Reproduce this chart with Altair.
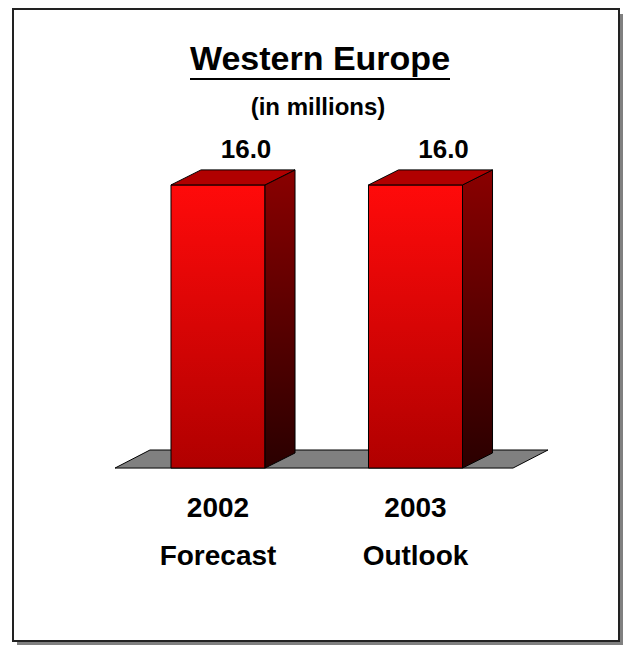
import altair as alt
import pandas as pd

# ---- data ----
years = ["2002", "2003"]
notes = ["Forecast", "Outlook"]
values = [16.0, 16.0]
value_labels = ["16.0", "16.0"]
title_text = "Western Europe"
subtitle_text = "(in millions)"

# ---- geometry / style constants (not data) ----
W, H = 615, 637
HALF = 0.238      # half bar width (x units)
DX, DY = 0.152, 0.85   # 3D depth of the bars
FL, FR = -0.5215, 1.4937  # floor front edge extent
FDX, FDY = 0.177, 1.02   # floor depth
FONT = "Liberation Sans"

xs = alt.Scale(domain=[-1.0633, 2.0506], nice=False, zero=False)
ys = alt.Scale(domain=[-10, 26], nice=False, zero=False)

bars = pd.DataFrame({"idx": list(range(len(years))), "year": years,
                     "note": notes, "value": values, "label": value_labels})

# side faces (vertical areas) and top faces (horizontal areas): two rows per bar
side_rows, top_rows = [], []
for i, v in enumerate(values):
    side_rows.append({"bar": i, "x": i + HALF, "y": v, "y2": 0.0})
    side_rows.append({"bar": i, "x": i + HALF + DX, "y": v + DY, "y2": DY})
    top_rows.append({"bar": i, "y": v, "x": i - HALF, "x2": i + HALF})
    top_rows.append({"bar": i, "y": v + DY, "x": i - HALF + DX, "x2": i + HALF + DX})
side = pd.DataFrame(side_rows)
top = pd.DataFrame(top_rows)
floor = pd.DataFrame({"y": [0.0, FDY], "x": [FL, FL + FDX], "x2": [FR, FR + FDX]})

X = lambda f: alt.X(f, type="quantitative", scale=xs, axis=None)
X2 = lambda f: alt.X2(f)
Y = lambda f: alt.Y(f, type="quantitative", scale=ys, axis=None)

one = pd.DataFrame({"a": [0]})

shadow = alt.Chart(one).mark_rect(fill="#808080").encode(
    x=alt.value(9), x2=alt.value(W), y=alt.value(6), y2=alt.value(H))
frame = alt.Chart(one).mark_rect(fill="white", stroke="#222222", strokeWidth=2).encode(
    x=alt.value(5), x2=alt.value(W - 4), y=alt.value(1), y2=alt.value(H - 4))

floor_layer = alt.Chart(floor).mark_area(
    orient="horizontal", fill="#808080", stroke="black", strokeWidth=1
).encode(y=Y("y"), x=X("x"), x2=X2("x2"))

front = alt.Chart(bars).transform_calculate(
    xl=f"datum.idx - {HALF}", xr=f"datum.idx + {HALF}", base="0"
).mark_rect(
    fill={"gradient": "linear", "x1": 0, "y1": 0, "x2": 0, "y2": 1,
          "stops": [{"offset": 0, "color": "#ff0a0a"},
                    {"offset": 1, "color": "#b00000"}]},
    stroke="black", strokeWidth=1
).encode(x=X("xl:Q"), x2=X2("xr:Q"), y=Y("value"), y2=alt.Y2("base:Q"))

side_layer = alt.Chart(side).mark_area(
    fill={"gradient": "linear", "x1": 0, "y1": 0, "x2": 0, "y2": 1,
          "stops": [{"offset": 0, "color": "#8a0000"},
                    {"offset": 1, "color": "#2a0000"}]},
    stroke="black", strokeWidth=1
).encode(x=X("x"), y=Y("y"), y2=alt.Y2("y2"), detail="bar:N")

top_layer = alt.Chart(top).mark_area(
    orient="horizontal", fill="#b00000", stroke="black", strokeWidth=1
).encode(y=Y("y"), x=X("x"), x2=X2("x2"), detail="bar:N")

val_text = alt.Chart(bars).mark_text(
    font=FONT, fontSize=26, fontWeight="bold", dx=28, dy=-27,
    baseline="alphabetic", color="black"
).encode(x=X("idx"), y=Y("value"), text="label:N")

year_text = alt.Chart(bars).transform_calculate(base="0").mark_text(
    font=FONT, fontSize=28, fontWeight="bold", dy=49, baseline="alphabetic", color="black"
).encode(x=X("idx"), y=Y("base:Q"), text="year:N")

note_text = alt.Chart(bars).transform_calculate(base="0").mark_text(
    font=FONT, fontSize=28, fontWeight="bold", dy=97, baseline="alphabetic", color="black"
).encode(x=X("idx"), y=Y("base:Q"), text="note:N")

title = alt.Chart(pd.DataFrame({"t": [title_text]})).mark_text(
    font=FONT, fontSize=34, fontWeight="bold", baseline="alphabetic", color="black"
).encode(x=alt.value(312), y=alt.value(62), text="t:N")
underline = alt.Chart(one).mark_rule(color="black", strokeWidth=2).encode(
    x=alt.value(182), x2=alt.value(442), y=alt.value(71))
subtitle = alt.Chart(pd.DataFrame({"t": [subtitle_text]})).mark_text(
    font=FONT, fontSize=24, fontWeight="bold", baseline="alphabetic", color="black"
).encode(x=alt.value(310), y=alt.value(107), text="t:N")

chart = alt.layer(
    shadow, frame, floor_layer, front, side_layer, top_layer,
    val_text, year_text, note_text, title, underline, subtitle
).properties(
    width=W, height=H, padding=0, autosize=alt.AutoSizeParams(type="none")
).configure_view(stroke=None)

chart.save("out.html", embed_options={"renderer": "svg", "actions": False})
